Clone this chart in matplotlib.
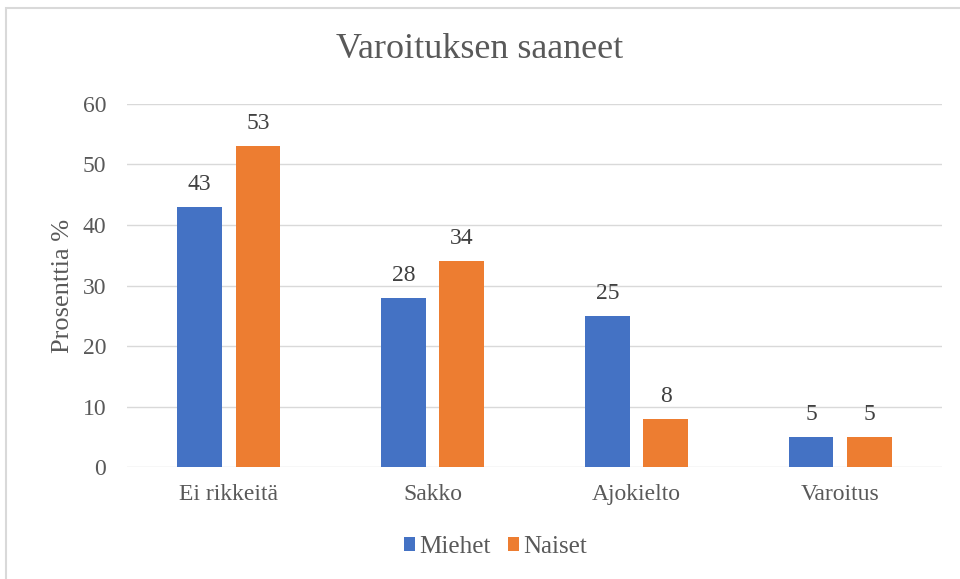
import matplotlib
matplotlib.use('Agg')
import matplotlib.pyplot as plt
import numpy as np
from matplotlib.patches import Rectangle

categories = ["Ei rikkeitä", "Sakko", "Ajokielto", "Varoitus"]
miehet = [43, 28, 25, 5]
naiset = [53, 34, 8, 5]
series_names = ["Miehet", "Naiset"]
colors = ["#4472C4", "#ED7D31"]

plt.rcParams['font.family'] = ['Liberation Serif', 'DejaVu Serif']

fig = plt.figure(figsize=(9.6, 5.79), dpi=100)
ax = fig.add_axes([0.1323, 0.1934, 0.849, 0.627])

# chart frame
fig.patches.append(Rectangle((6 / 960, -0.01), 1.0, 1 - 8 / 579 + 0.01,
                             transform=fig.transFigure, fill=False,
                             edgecolor="#D9D9D9", lw=1.5))

x = np.arange(len(categories))
width = 0.22
off = 0.143
for vals, name, col, sign in zip([miehet, naiset], series_names, colors, [-1, 1]):
    bars = ax.bar(x + sign * off, vals, width, color=col, label=name, zorder=3)
    for b, v in zip(bars, vals):
        ax.text(b.get_x() + b.get_width() / 2, v + 2.0, f"{v}", ha="center",
                va="bottom", fontsize=17, color="#404040")

ax.set_xlim(-0.5, len(categories) - 0.5)
ax.set_ylim(0, 60)
ax.set_yticks(range(0, 61, 10))
ax.yaxis.grid(True, color="#D9D9D9", lw=1, zorder=0)
for s in ax.spines.values():
    s.set_visible(False)
ax.tick_params(axis="both", length=0, labelsize=17, labelcolor="#595959")
ax.tick_params(axis="y", pad=15)
ax.tick_params(axis="x", pad=12)
ax.set_xticks(x)
ax.set_xticklabels(categories)
ax.set_ylabel("Prosenttia %", fontsize=19, color="#595959", labelpad=6)

fig.text(0.5, 1 - 50 / 579, "Varoituksen saaneet", ha="center", va="center",
         fontsize=26, color="#595959")

ax.legend(loc="center", bbox_to_anchor=(0.452, (1 - 547 / 579 - 0.1934) / 0.627),
          ncol=2, frameon=False, fontsize=18, handlelength=0.45, handleheight=0.45,
          handletextpad=0.15, columnspacing=0.7, labelcolor="#595959")

fig.savefig("out.png", dpi=100)
